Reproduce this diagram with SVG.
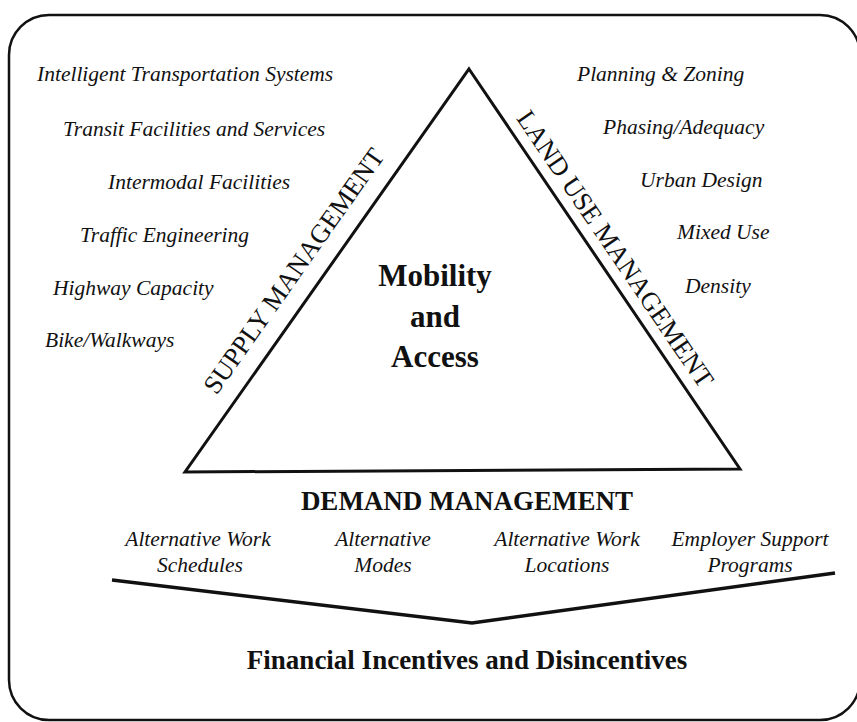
<svg xmlns="http://www.w3.org/2000/svg" width="857" height="722" viewBox="0 0 857 722">
<style>
.it{font-family:"Liberation Serif",serif;font-style:italic;font-size:21.5px;fill:#111}
.bd{font-family:"Liberation Serif",serif;font-weight:bold;fill:#111}
.cap{font-family:"Liberation Serif",serif;font-size:26.5px;fill:#111}
.ln{fill:none;stroke:#111;stroke-linejoin:miter}
</style>
<rect width="857" height="722" fill="#fff"/>
<g id="frame"><rect class="ln" x="9" y="15" width="851" height="705" rx="40" ry="40" stroke-width="2.5"/></g>
<g id="connectors">
<polygon id="triangle" class="ln" points="469,69 740,469 185,472" stroke-width="3"/>
<polyline id="chevron" class="ln" points="112,580 472,623 835,573" stroke-width="3.5"/>
</g>
<g id="center"><text class="bd" font-size="31" text-anchor="middle"><tspan x="435" y="286">Mobility</tspan><tspan x="435" y="327">and</tspan><tspan x="435" y="367">Access</tspan></text></g>
<g id="supply">
<text class="cap" text-anchor="middle" transform="translate(301,276) rotate(-54.8)">SUPPLY MANAGEMENT</text>
<text class="it" x="37" y="81">Intelligent Transportation Systems</text>
<text class="it" x="63" y="136">Transit Facilities and Services</text>
<text class="it" x="108" y="189">Intermodal Facilities</text>
<text class="it" x="80" y="242">Traffic Engineering</text>
<text class="it" x="53" y="295">Highway Capacity</text>
<text class="it" x="45" y="347">Bike/Walkways</text>
</g>
<g id="landuse">
<text class="cap" text-anchor="middle" transform="translate(608,254) rotate(55.8)">LAND USE MANAGEMENT</text>
<text class="it" x="577" y="81">Planning &amp; Zoning</text>
<text class="it" x="603" y="134">Phasing/Adequacy</text>
<text class="it" x="640" y="187">Urban Design</text>
<text class="it" x="677" y="239">Mixed Use</text>
<text class="it" x="685" y="293">Density</text>
</g>
<g id="demand">
<text class="bd" font-size="27" x="467" y="510" text-anchor="middle">DEMAND MANAGEMENT</text>
<text class="it" text-anchor="middle"><tspan x="198" y="546">Alternative Work</tspan><tspan x="200" y="572">Schedules</tspan></text>
<text class="it" text-anchor="middle"><tspan x="383" y="546">Alternative</tspan><tspan x="383" y="572">Modes</tspan></text>
<text class="it" text-anchor="middle"><tspan x="567" y="546">Alternative Work</tspan><tspan x="567" y="572">Locations</tspan></text>
<text class="it" text-anchor="middle"><tspan x="750" y="546">Employer Support</tspan><tspan x="750" y="572">Programs</tspan></text>
</g>
<g id="financial"><text class="bd" font-size="27" x="467" y="669" text-anchor="middle">Financial Incentives and Disincentives</text></g>
</svg>
